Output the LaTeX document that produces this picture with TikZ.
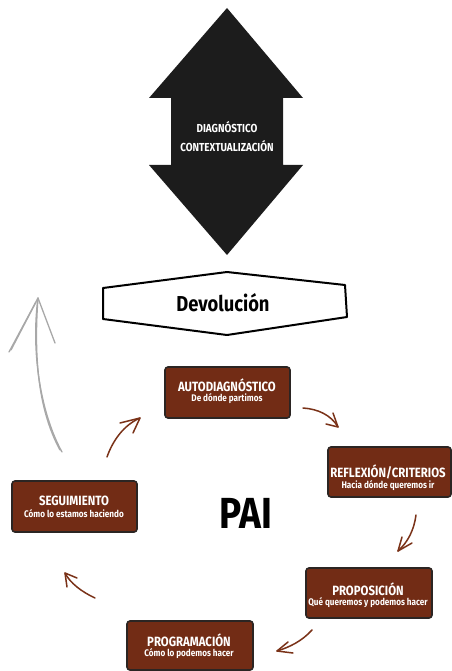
\documentclass[tikz,border=0pt]{standalone}
\usepackage{fontspec}
\setmainfont[FakeStretch=0.85]{Fira Sans}
\usetikzlibrary{calc}
\definecolor{boxbrown}{HTML}{722C15}
\definecolor{boxedge}{HTML}{2B2523}
\definecolor{arrowbrown}{HTML}{7A3218}
\definecolor{sketchgray}{HTML}{A8A8A8}
\definecolor{darkarrow}{HTML}{1C1C1C}
\tikzset{
  stagebox/.style={draw=boxedge, fill=boxbrown, line width=1.6pt, rounded corners=3pt},
  stagetitle/.style={text=white, font=\bfseries\fontsize{13.4}{13.4}\selectfont, inner sep=0pt},
  stagesub/.style={text=white, font=\bfseries\fontsize{9.6}{9.6}\selectfont, inner sep=0pt},
  cyclearrow/.style={draw=arrowbrown, line width=1.5pt, line cap=round, line join=round},
  returnarrow/.style={draw=sketchgray, line width=1.3pt, line cap=round, line join=round},
}
\begin{document}
\begin{tikzpicture}[x=1pt,y=-1pt]
\useasboundingbox (0,0) rectangle (451,671);

% double-headed arrow at the top
\fill[darkarrow] (227,8) -- (303,98) -- (283,98) -- (283,165) -- (303,165) -- (227,255)
  -- (149,165) -- (171,165) -- (171,98) -- (149,98) -- cycle;
\node[text=white, font=\bfseries\fontsize{11.6}{19}\selectfont, align=center] (diag) at (227,137)
  {DIAGNÓSTICO\\CONTEXTUALIZACIÓN};

% Devolución banner
\draw[line width=2pt, line join=round] (103,288) -- (227,272) -- (345,285) -- (347,317)
  -- (227,335) -- (103,319) -- cycle;
\node[font=\bfseries\fontsize{21.6}{21.6}\selectfont] (dev) at (223,303) {Devolución};

% stage boxes
\draw[stagebox] (165,367) rectangle (290,418);
\node[stagetitle] (auto) at (227,385) {AUTODIAGNÓSTICO};
\node[stagesub] (autos) at (227,399) {De dónde partimos};

\draw[stagebox] (328,447) rectangle (451,497);
\node[stagetitle] (refl) at (388,472) {REFLEXIÓN/CRITERIOS};
\node[stagesub] (refls) at (388,486) {Hacia dónde queremos ir};

\draw[stagebox] (306,568) rectangle (432,618);
\node[stagetitle] (prop) at (368,589) {PROPOSICIÓN};
\node[stagesub] (props) at (368,603) {Qué queremos y podemos hacer};

\draw[stagebox] (127,621) rectangle (253,670);
\node[stagetitle] (prog) at (189,640) {PROGRAMACIÓN};
\node[stagesub] (progs) at (189,654) {Cómo lo podemos hacer};

\draw[stagebox] (12,481) rectangle (137,532);
\node[stagetitle] (seg) at (74,501) {SEGUIMIENTO};
\node[stagesub] (segs) at (74,514) {Cómo lo estamos haciendo};

% centre label
\node[font=\bfseries\fontsize{43.5}{43.5}\selectfont] (pai) at (246,513) {PAI};

% cycle arrows
\coordinate (a1s) at (107,457); \coordinate (a1t) at (140,418);
\draw[cyclearrow] (a1s) .. controls (113,440) and (124,425) .. (a1t);
\draw[cyclearrow] (120,423) -- (a1t) -- (133,433);

\coordinate (a2s) at (303,408); \coordinate (a2t) at (338,427);
\draw[cyclearrow] (a2s) .. controls (318,409) and (331,415) .. (a2t);
\draw[cyclearrow] (333,413) -- (a2t) -- (326,424);

\coordinate (a3s) at (416,515); \coordinate (a3t) at (398,551);
\draw[cyclearrow] (a3s) .. controls (414,530) and (408,542) .. (a3t);
\draw[cyclearrow] (402,537) -- (a3t) -- (412,543);

\coordinate (a4s) at (312,630); \coordinate (a4t) at (277,651);
\draw[cyclearrow] (a4s) .. controls (302,641) and (290,647) .. (a4t);
\draw[cyclearrow] (288,642) -- (a4t) -- (293,653);

\coordinate (a5s) at (95,598); \coordinate (a5t) at (65,573);
\draw[cyclearrow] (a5s) .. controls (82,592) and (70,583) .. (a5t);
\draw[cyclearrow] (67,587) -- (a5t) -- (77,578);

% sketched return arrow
\coordinate (gs) at (62,452); \coordinate (gt) at (38,298);
\draw[returnarrow] (gs) .. controls (40,412) and (31,350) .. (gt);
\draw[returnarrow] (60,450) .. controls (37,408) and (34,352) .. (gt);
\draw[returnarrow] (9,352) -- (gt) -- (55,343);
\draw[returnarrow] (11,350) -- (36,302);
\end{tikzpicture}
\end{document}
